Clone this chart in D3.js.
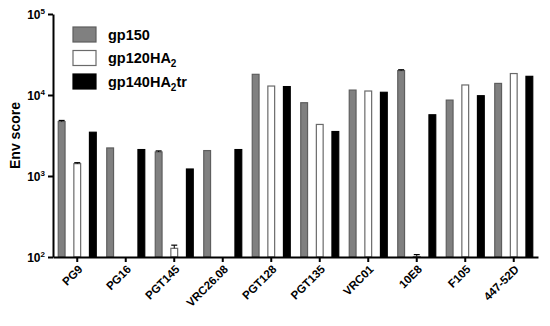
<!DOCTYPE html>
<html>
<head>
<meta charset="utf-8">
<script src="https://cdn.jsdelivr.net/npm/d3@7"></script>
<style>
  body { margin: 0; background: #fff; }
  text { font-family: "Liberation Sans", Arial, sans-serif; font-weight: bold; }
</style>
</head>
<body>
<svg id="chart" width="550" height="326"></svg>
<script>
const antibodies = ['PG9', 'PG16', 'PGT145', 'VRC26.08', 'PGT128', 'PGT135', 'VRC01', '10E8', 'F105', '447-52D'];
const gp150 = [4700, 2220, 1980, 2060, 18000, 8030, 11500, 20000, 8650, 13900];
const gp120HA2 = [1420, null, 128, null, 12900, 4330, 11200, 101, 13300, 18400];
const gp140HA2tr = [3470, 2120, 1220, 2120, 12700, 3540, 10800, 5700, 9800, 17000];
const gp150Err = [150, 0, 60, 0, 0, 0, 0, 500, 0, 0];
const gp120HA2Err = [40, 0, 12, 0, 0, 0, 0, 6, 0, 0];
const gp140HA2trErr = [0, 0, 0, 0, 0, 0, 0, 0, 0, 0];
const yTicks = [1e2, 1e3, 1e4, 1e5];

const series = [
  { name: 'gp150', values: gp150, err: gp150Err, fill: '#808080', stroke: '#5e5e5e' },
  { name: 'gp120HA2', values: gp120HA2, err: gp120HA2Err, fill: '#ffffff', stroke: '#6a6a6a' },
  { name: 'gp140HA2tr', values: gp140HA2tr, err: gp140HA2trErr, fill: '#000000', stroke: '#000000' }
];

const svg = d3.select('#chart');
const plotLeft = 53, plotRight = 538, plotTop = 14, plotBottom = 257;

const x = d3.scaleBand().domain(antibodies).range([plotLeft, plotRight]).padding(0);
const inner = d3.scaleBand().domain(series.map(s => s.name))
  .range([-19.5, 19.5]).paddingInner(0.5).paddingOuter(0);
const y = d3.scaleLog().domain([1e2, 1e5]).range([plotBottom, plotTop]);

// bars
series.forEach(s => {
  const g = svg.append('g');
  antibodies.forEach((ab, i) => {
    const v = s.values[i];
    if (v == null) return;
    const bx = x(ab) + x.bandwidth() / 2 + inner(s.name);
    const bw = inner.bandwidth();
    g.append('rect')
      .attr('x', bx + 0.5)
      .attr('y', y(v))
      .attr('width', bw - 1)
      .attr('height', y(1e2) - y(v))
      .attr('fill', s.fill)
      .attr('stroke', s.stroke)
      .attr('stroke-width', 1.2);
    const e = s.err[i];
    if (e > 0) {
      const cx = bx + bw / 2;
      g.append('line')
        .attr('x1', cx).attr('x2', cx)
        .attr('y1', y(v)).attr('y2', y(v + e))
        .attr('stroke', '#000').attr('stroke-width', 1);
      g.append('line')
        .attr('x1', cx - 3).attr('x2', cx + 3)
        .attr('y1', y(v + e)).attr('y2', y(v + e))
        .attr('stroke', '#000').attr('stroke-width', 1.2);
    }
  });
});

// y axis
const yAxis = svg.append('g')
  .attr('transform', `translate(${plotLeft},0)`)
  .call(d3.axisLeft(y).tickValues(yTicks).tickFormat(() => '').tickSize(5).tickSizeOuter(0));
yAxis.select('.domain').attr('stroke-width', 2);
yAxis.selectAll('.tick line').attr('stroke-width', 2);
yAxis.selectAll('.tick').each(function(d) {
  const t = d3.select(this).append('text')
    .attr('x', -8).attr('dy', '0.35em')
    .attr('text-anchor', 'end')
    .attr('fill', '#000')
    .style('font-size', '12px');
  t.append('tspan').text('10');
  t.append('tspan').text(Math.round(Math.log10(d)))
    .attr('dy', '-5').style('font-size', '8px');
});

// x axis
const xAxis = svg.append('g')
  .attr('transform', `translate(0,${plotBottom})`)
  .call(d3.axisBottom(x).tickSize(5).tickSizeOuter(0).tickFormat(() => ''));
xAxis.select('.domain').attr('stroke-width', 2);
xAxis.selectAll('.tick line').attr('stroke-width', 2);

// rotated category labels (CSS transform)
svg.append('g')
  .selectAll('text')
  .data(antibodies)
  .join('text')
  .attr('text-anchor', 'end')
  .style('transform-origin', '0 0')
  .style('transform', d => `translate(${x(d) + x.bandwidth() / 2 + 6}px,${plotBottom + 13}px) rotate(-45deg)`)
  .style('font-size', '11.5px')
  .text(d => d);

// y label
svg.append('text')
  .attr('transform', `translate(20,${(plotTop + plotBottom) / 2}) rotate(-90)`)
  .attr('text-anchor', 'middle')
  .style('font-size', '14px')
  .text('Env score');

// legend
const legend = svg.append('g').attr('transform', 'translate(73,27)');
series.forEach((s, i) => {
  const row = legend.append('g').attr('transform', `translate(0,${i * 23.5})`);
  row.append('rect')
    .attr('width', 23).attr('height', 15)
    .attr('fill', s.fill).attr('stroke', s.stroke).attr('stroke-width', 1.2);
  const t = row.append('text').attr('x', 35).attr('y', 12.5).style('font-size', '14.5px');
  if (s.name === 'gp150') {
    t.text('gp150');
  } else if (s.name === 'gp120HA2') {
    t.append('tspan').text('gp120HA');
    t.append('tspan').text('2').attr('dy', 4).style('font-size', '10px');
  } else {
    t.append('tspan').text('gp140HA');
    t.append('tspan').text('2').attr('dy', 4).style('font-size', '10px');
    t.append('tspan').text('tr').attr('dy', -4);
  }
});
</script>
</body>
</html>
